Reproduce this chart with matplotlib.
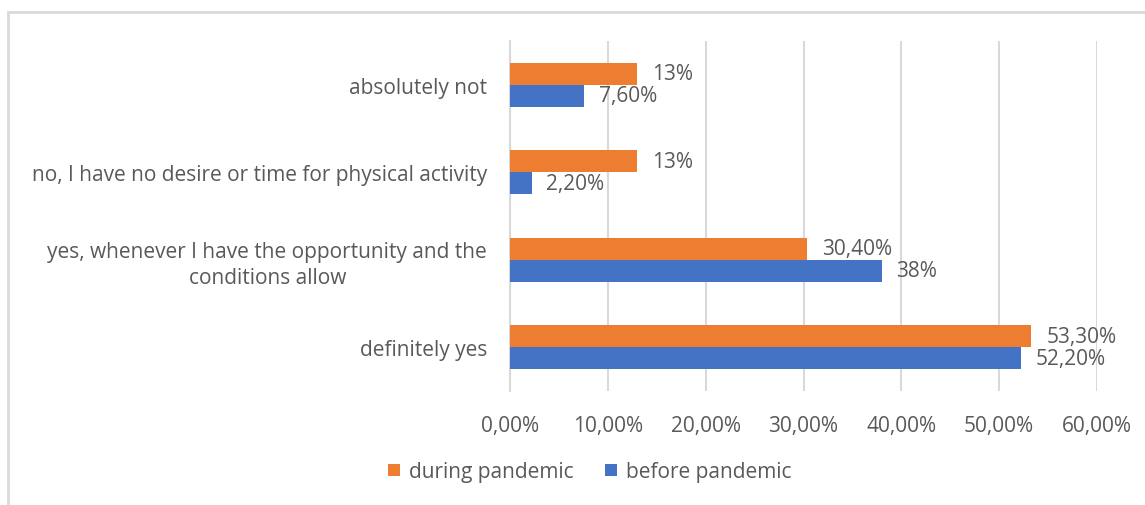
import matplotlib
matplotlib.use("Agg")
import matplotlib.pyplot as plt
import numpy as np
from matplotlib.patches import Rectangle

CATEGORIES = [
    "definitely yes",
    "yes, whenever I have the opportunity and the\nconditions allow",
    "no, I have no desire or time for physical activity",
    "absolutely not",
]
BEFORE = [52.2, 38.0, 2.2, 7.6]
DURING = [53.3, 30.4, 13.0, 13.0]
BEFORE_LABELS = ["52,20%", "38%", "2,20%", "7,60%"]
DURING_LABELS = ["53,30%", "30,40%", "13%", "13%"]
XTICKS = [0, 10, 20, 30, 40, 50, 60]

ORANGE = "#ed7d31"
BLUE = "#4472c4"
TEXT = "#595959"
GRID = "#d9d9d9"
FS = 15

plt.rcParams["font.family"] = ["Open Sans", "DejaVu Sans"]

W, H = 1145, 506
fig = plt.figure(figsize=(W / 100, H / 100), dpi=100)
fig.patch.set_facecolor("white")

# chart frame (light grey, top and left visible)
fig.patches.append(Rectangle((8 / W, -0.05), 1.1, (H - 13) / H + 0.05,
                             transform=fig.transFigure, fill=False,
                             edgecolor=GRID, linewidth=2))

ax = fig.add_axes([510 / W, (H - 392) / H, (1097 - 510) / W, 350 / H])

y = np.arange(len(CATEGORIES))
bh = 0.25
ax.barh(y - bh / 2, BEFORE, bh, color=BLUE, label="before pandemic", zorder=3)
ax.barh(y + bh / 2, DURING, bh, color=ORANGE, label="during pandemic", zorder=3)

for yi, v, lbl in zip(y, BEFORE, BEFORE_LABELS):
    ax.text(v + 1.5, yi - bh / 2, lbl, va="center", ha="left",
            fontsize=FS, color=TEXT)
for yi, v, lbl in zip(y, DURING, DURING_LABELS):
    ax.text(v + 1.5, yi + bh / 2, lbl, va="center", ha="left",
            fontsize=FS, color=TEXT)

ax.set_xlim(0, 60)
ax.set_ylim(-0.5, 3.5)
ax.set_xticks(XTICKS)
ax.set_xticklabels([f"{t:.2f}%".replace(".", ",") for t in XTICKS],
                   fontsize=FS, color=TEXT)
ax.set_yticks(y)
ax.set_yticklabels(CATEGORIES, fontsize=FS, color=TEXT, ha="right",
                   multialignment="center", linespacing=1.3)
ax.tick_params(axis="x", length=0, pad=17)
ax.tick_params(axis="y", length=0, pad=16.5)
ax.xaxis.grid(True, color=GRID, linewidth=1.5, zorder=0)
ax.spines[["top", "right", "bottom"]].set_visible(False)
ax.spines["left"].set_color(GRID)
ax.spines["left"].set_linewidth(1.5)
ax.set_axisbelow(True)

handles, labels = ax.get_legend_handles_labels()
fig.legend(handles[::-1], labels[::-1], loc="center",
           bbox_to_anchor=(590 / W, (H - 473) / H), ncol=2, frameon=False,
           fontsize=FS, labelcolor=TEXT, handlelength=0.55, handleheight=0.55,
           handletextpad=0.45, columnspacing=1.5)

fig.savefig("out.png", dpi=100, facecolor="white")
